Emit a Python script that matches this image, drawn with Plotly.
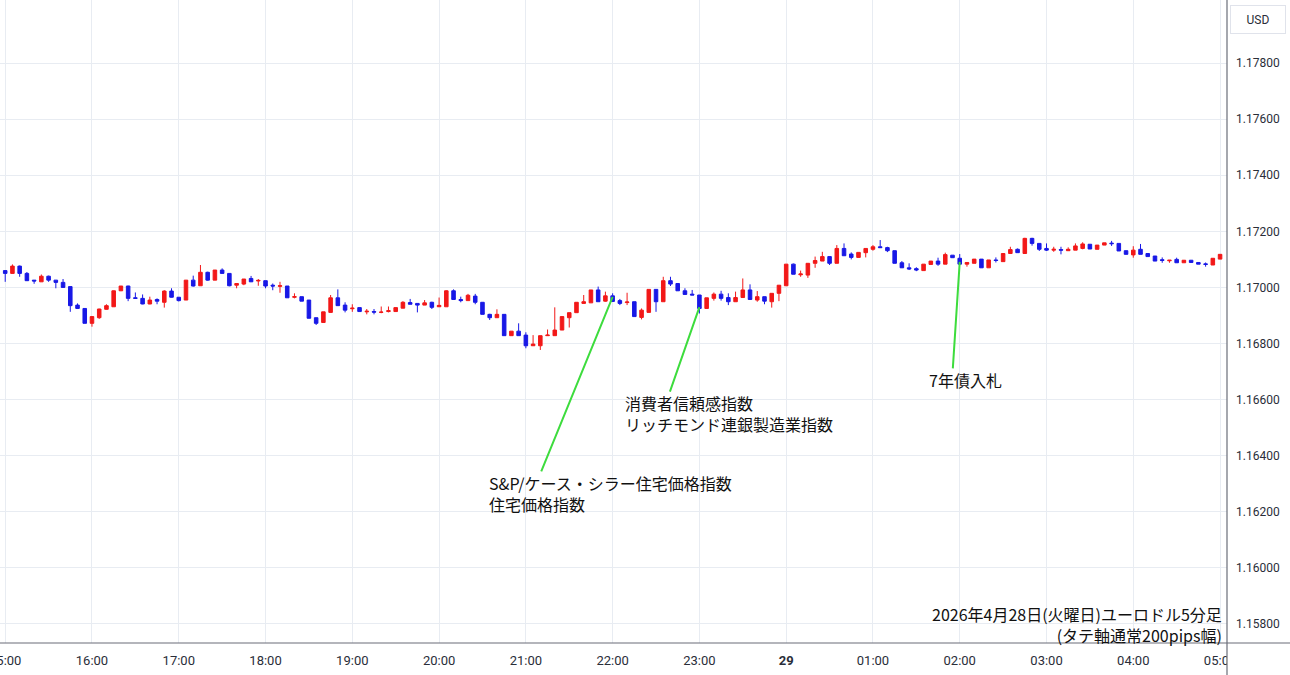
import pandas as pd
import plotly.graph_objects as go

# EUR/USD 5-minute candles, 2026-04-28 15:00 -> 2026-04-29 05:00
start_time = "2026-04-28 15:00"
n_candles = 169

open_ = [
    1.17060, 1.17050, 1.17076, 1.17050, 1.17026, 1.17020, 1.17040, 1.17026, 1.17018, 1.17003,
    1.16937, 1.16925, 1.16872, 1.16892, 1.16922, 1.16931, 1.16988, 1.17005, 1.16963, 1.16961,
    1.16941, 1.16957, 1.16947, 1.16987, 1.16965, 1.16955, 1.17026, 1.17006, 1.17054, 1.17026,
    1.17062, 1.17050, 1.17008, 1.17012, 1.17032, 1.17023, 1.17024, 1.17008, 1.17004, 1.17005,
    1.16965, 1.16967, 1.16955, 1.16892, 1.16875, 1.16911, 1.16963, 1.16937, 1.16924, 1.16928,
    1.16913, 1.16914, 1.16911, 1.16914, 1.16914, 1.16926, 1.16946, 1.16943, 1.16937, 1.16947,
    1.16931, 1.16931, 1.16988, 1.16957, 1.16953, 1.16969, 1.16947, 1.16904, 1.16892, 1.16904,
    1.16828, 1.16844, 1.16830, 1.16792, 1.16792, 1.16828, 1.16828, 1.16848, 1.16892, 1.16910,
    1.16943, 1.16945, 1.16991, 1.16951, 1.16970, 1.16953, 1.16946, 1.16949, 1.16893, 1.16911,
    1.16993, 1.16949, 1.17024, 1.17014, 1.16988, 1.16976, 1.16973, 1.16925, 1.16961, 1.16976,
    1.16964, 1.16949, 1.16964, 1.16991, 1.16955, 1.16967, 1.16949, 1.16979, 1.17006, 1.17083,
    1.17045, 1.17044, 1.17086, 1.17094, 1.17110, 1.17086, 1.17139, 1.17119, 1.17107, 1.17124,
    1.17136, 1.17145, 1.17142, 1.17131, 1.17088, 1.17070, 1.17067, 1.17060, 1.17082, 1.17094,
    1.17083, 1.17115, 1.17104, 1.17083, 1.17086, 1.17101, 1.17070, 1.17098, 1.17092, 1.17121,
    1.17136, 1.17121, 1.17175, 1.17157, 1.17139, 1.17133, 1.17135, 1.17131, 1.17133, 1.17139,
    1.17154, 1.17136, 1.17151, 1.17158, 1.17157, 1.17131, 1.17116, 1.17136, 1.17121, 1.17112,
    1.17099, 1.17095, 1.17100, 1.17088, 1.17097, 1.17089, 1.17084, 1.17080, 1.17101,
]
high = [
    1.17062, 1.17082, 1.17078, 1.17055, 1.17026, 1.17046, 1.17042, 1.17026, 1.17030, 1.17003,
    1.16943, 1.16925, 1.16898, 1.16924, 1.16940, 1.16989, 1.17005, 1.17006, 1.16982, 1.16975,
    1.16967, 1.16961, 1.16990, 1.16997, 1.16965, 1.17026, 1.17042, 1.17080, 1.17056, 1.17062,
    1.17068, 1.17050, 1.17014, 1.17030, 1.17041, 1.17030, 1.17024, 1.17014, 1.17020, 1.17005,
    1.16979, 1.16967, 1.16955, 1.16892, 1.16913, 1.16973, 1.16993, 1.16947, 1.16940, 1.16928,
    1.16923, 1.16923, 1.16932, 1.16932, 1.16928, 1.16951, 1.16959, 1.16943, 1.16955, 1.16949,
    1.16964, 1.16990, 1.16993, 1.16967, 1.16977, 1.16977, 1.16947, 1.16906, 1.16922, 1.16904,
    1.16844, 1.16872, 1.16840, 1.16830, 1.16828, 1.16850, 1.16929, 1.16896, 1.16910, 1.16947,
    1.16973, 1.16991, 1.17003, 1.16985, 1.16979, 1.16959, 1.16981, 1.16949, 1.16925, 1.16993,
    1.16993, 1.17038, 1.17038, 1.17014, 1.16997, 1.16991, 1.16973, 1.16963, 1.16982, 1.16988,
    1.16979, 1.16985, 1.17032, 1.17011, 1.16987, 1.16967, 1.16979, 1.17008, 1.17083, 1.17085,
    1.17060, 1.17086, 1.17110, 1.17127, 1.17110, 1.17151, 1.17157, 1.17125, 1.17125, 1.17139,
    1.17151, 1.17169, 1.17145, 1.17131, 1.17094, 1.17086, 1.17072, 1.17083, 1.17094, 1.17106,
    1.17124, 1.17115, 1.17119, 1.17089, 1.17101, 1.17101, 1.17098, 1.17107, 1.17121, 1.17145,
    1.17139, 1.17177, 1.17177, 1.17157, 1.17157, 1.17145, 1.17145, 1.17143, 1.17157, 1.17161,
    1.17154, 1.17151, 1.17159, 1.17166, 1.17157, 1.17131, 1.17147, 1.17155, 1.17121, 1.17112,
    1.17107, 1.17097, 1.17106, 1.17097, 1.17097, 1.17089, 1.17089, 1.17104, 1.17118,
]
low = [
    1.17020, 1.17050, 1.17038, 1.17023, 1.17013, 1.17020, 1.17020, 1.16997, 1.17000, 1.16913,
    1.16923, 1.16872, 1.16860, 1.16888, 1.16921, 1.16931, 1.16987, 1.16951, 1.16959, 1.16940,
    1.16940, 1.16940, 1.16928, 1.16964, 1.16950, 1.16955, 1.17003, 1.17006, 1.17024, 1.17026,
    1.17050, 1.17004, 1.16997, 1.17008, 1.17020, 1.17006, 1.16997, 1.16990, 1.16981, 1.16963,
    1.16961, 1.16951, 1.16890, 1.16866, 1.16875, 1.16910, 1.16935, 1.16911, 1.16913, 1.16914,
    1.16904, 1.16904, 1.16908, 1.16911, 1.16914, 1.16926, 1.16940, 1.16911, 1.16937, 1.16923,
    1.16931, 1.16931, 1.16957, 1.16947, 1.16953, 1.16940, 1.16904, 1.16884, 1.16892, 1.16828,
    1.16828, 1.16828, 1.16783, 1.16792, 1.16777, 1.16828, 1.16828, 1.16848, 1.16857, 1.16910,
    1.16943, 1.16945, 1.16949, 1.16949, 1.16949, 1.16937, 1.16937, 1.16896, 1.16886, 1.16911,
    1.16913, 1.16949, 1.17005, 1.16988, 1.16975, 1.16973, 1.16907, 1.16925, 1.16953, 1.16953,
    1.16937, 1.16949, 1.16964, 1.16957, 1.16949, 1.16940, 1.16928, 1.16951, 1.17006, 1.17047,
    1.17038, 1.17034, 1.17070, 1.17094, 1.17080, 1.17086, 1.17113, 1.17100, 1.17107, 1.17107,
    1.17131, 1.17142, 1.17126, 1.17086, 1.17070, 1.17062, 1.17058, 1.17060, 1.17082, 1.17077,
    1.17083, 1.17106, 1.17083, 1.17074, 1.17086, 1.17070, 1.17070, 1.17089, 1.17092, 1.17120,
    1.17124, 1.17121, 1.17149, 1.17130, 1.17130, 1.17127, 1.17118, 1.17131, 1.17133, 1.17136,
    1.17137, 1.17136, 1.17151, 1.17148, 1.17130, 1.17118, 1.17106, 1.17118, 1.17110, 1.17094,
    1.17088, 1.17088, 1.17088, 1.17088, 1.17089, 1.17083, 1.17074, 1.17080, 1.17101,
]
close = [
    1.17050, 1.17076, 1.17050, 1.17024, 1.17023, 1.17040, 1.17026, 1.17018, 1.17000, 1.16935,
    1.16925, 1.16872, 1.16896, 1.16923, 1.16935, 1.16988, 1.17005, 1.16961, 1.16961, 1.16941,
    1.16955, 1.16951, 1.16987, 1.16965, 1.16953, 1.17026, 1.17005, 1.17054, 1.17026, 1.17062,
    1.17050, 1.17006, 1.17014, 1.17030, 1.17020, 1.17025, 1.17005, 1.17005, 1.17006, 1.16963,
    1.16967, 1.16951, 1.16890, 1.16872, 1.16913, 1.16963, 1.16935, 1.16919, 1.16926, 1.16914,
    1.16915, 1.16912, 1.16912, 1.16917, 1.16928, 1.16947, 1.16940, 1.16937, 1.16945, 1.16929,
    1.16936, 1.16988, 1.16957, 1.16953, 1.16972, 1.16947, 1.16904, 1.16892, 1.16904, 1.16828,
    1.16844, 1.16828, 1.16792, 1.16798, 1.16828, 1.16830, 1.16848, 1.16896, 1.16910, 1.16947,
    1.16949, 1.16991, 1.16949, 1.16970, 1.16950, 1.16943, 1.16948, 1.16896, 1.16919, 1.16993,
    1.16949, 1.17024, 1.17012, 1.16988, 1.16975, 1.16973, 1.16925, 1.16963, 1.16976, 1.16961,
    1.16949, 1.16964, 1.16991, 1.16957, 1.16967, 1.16951, 1.16979, 1.17008, 1.17083, 1.17047,
    1.17048, 1.17086, 1.17096, 1.17110, 1.17086, 1.17139, 1.17113, 1.17107, 1.17125, 1.17139,
    1.17145, 1.17142, 1.17131, 1.17086, 1.17070, 1.17066, 1.17062, 1.17083, 1.17094, 1.17083,
    1.17117, 1.17106, 1.17083, 1.17089, 1.17101, 1.17070, 1.17098, 1.17096, 1.17121, 1.17135,
    1.17124, 1.17175, 1.17157, 1.17136, 1.17133, 1.17136, 1.17133, 1.17136, 1.17148, 1.17155,
    1.17137, 1.17151, 1.17159, 1.17156, 1.17130, 1.17118, 1.17133, 1.17118, 1.17110, 1.17094,
    1.17096, 1.17097, 1.17088, 1.17097, 1.17089, 1.17083, 1.17082, 1.17104, 1.17118,
]

# axis ticks
x_tick_times = ["2026-04-28 15:00", "2026-04-28 16:00", "2026-04-28 17:00", "2026-04-28 18:00",
                "2026-04-28 19:00", "2026-04-28 20:00", "2026-04-28 21:00", "2026-04-28 22:00",
                "2026-04-28 23:00", "2026-04-29 00:00", "2026-04-29 01:00", "2026-04-29 02:00",
                "2026-04-29 03:00", "2026-04-29 04:00", "2026-04-29 05:00"]
x_tick_labels = ["15:00", "16:00", "17:00", "18:00", "19:00", "20:00", "21:00", "22:00",
                 "23:00", "<b>29</b>", "01:00", "02:00", "03:00", "04:00", "05:00"]
y_tick_values = [1.158, 1.160, 1.162, 1.164, 1.166, 1.168, 1.170, 1.172, 1.174, 1.176, 1.178]

# event annotations: (time of candle, price pointed at, text)
events = [
    ("2026-04-28 22:00", 1.16966, "S&P/ケース・シラー住宅価格指数<br>住宅価格指数"),
    ("2026-04-28 23:00", 1.16930, "消費者信頼感指数<br>リッチモンド連銀製造業指数"),
    ("2026-04-29 02:00", 1.17091, "7年債入札"),
]
caption = "2026年4月28日(火曜日)ユーロドル5分足<br>(タテ軸通常200pips幅)"

times = pd.date_range(start_time, periods=n_candles, freq="5min")

RED = "#f21818"
BLUE = "#1818e6"
GREEN = "#3ddc3d"
TXT = "#2a2e39"
CJK = "Noto Sans CJK JP"

fig = go.Figure(go.Candlestick(
    x=times, open=open_, high=high, low=low, close=close,
    increasing=dict(line=dict(color=RED, width=1), fillcolor=RED),
    decreasing=dict(line=dict(color=BLUE, width=1), fillcolor=BLUE),
    whiskerwidth=0, showlegend=False, hoverinfo="skip",
))

W, H = 1290, 675
ML, MR, MT, MB = 0, 63, 0, 32
PW, PH = W - ML - MR, H - MT - MB

def px_x(px):
    return px / PW

def px_y(py):
    return (PH - py) / PH

annotations = []
# leader lines (arrow tail offsets in pixels) and text placement
arrow_offsets = [(-72, 176), (-30, 86), (-7, 108)]
text_specs = [
    # (x anchor time, price of text centre, xanchor)
    ("2026-04-28 20:32:50", 1.16264, "left"),
    ("2026-04-28 22:07:00", 1.16551, "left"),
    ("2026-04-29 02:03:40", 1.16670, "center"),
]
for (t, p, txt), (ax, ay), (tx, ty, xa) in zip(events, arrow_offsets, text_specs):
    annotations.append(dict(
        x=t, y=p, xref="x", yref="y", text="", showarrow=True,
        arrowhead=0, arrowwidth=2, arrowcolor=GREEN, ax=ax, ay=ay, standoff=0,
    ))
    annotations.append(dict(
        x=tx, y=ty, xref="x", yref="y", text=txt, showarrow=False, align="left",
        xanchor=xa, yanchor="middle", font=dict(family=CJK, size=16, color="#111111"),
    ))

# chart caption bottom-right
annotations.append(dict(
    x=px_x(1224), y=px_y(624), xref="paper", yref="paper", text=caption, showarrow=False,
    xanchor="right", yanchor="middle", align="right",
    font=dict(family=CJK, size=16, color="#111111"),
))

# currency box
annotations.append(dict(
    x=px_x(1258), y=px_y(20), xref="paper", yref="paper", text="USD", showarrow=False,
    xanchor="center", yanchor="middle", width=54, height=27, borderpad=0,
    bordercolor="#e0e3eb", borderwidth=1, bgcolor="white",
    font=dict(family="Roboto", size=12, color=TXT),
))

shapes = [
    # cover the part of x tick labels under the price scale
    dict(type="rect", xref="paper", yref="paper", x0=1.0, x1=px_x(W + 5), y0=px_y(H + 5), y1=0,
         fillcolor="white", line=dict(width=0), layer="above"),
    # price-scale separator
    dict(type="line", xref="paper", yref="paper", x0=1.0, x1=1.0, y0=px_y(H + 5), y1=1.0,
         line=dict(color="#6a6d78", width=1.2), layer="above"),
    # time-scale separator
    dict(type="line", xref="paper", yref="paper", x0=0, x1=px_x(W + 5), y0=0, y1=0,
         line=dict(color="#6a6d78", width=1.2), layer="above"),
]

fig.update_layout(
    width=W, height=H,
    margin=dict(l=ML, r=MR, t=MT, b=MB, autoexpand=False),
    paper_bgcolor="white", plot_bgcolor="white",
    showlegend=False,
    annotations=annotations,
    shapes=shapes,
    font=dict(family="Roboto", size=12, color=TXT),
)
fig.update_xaxes(
    type="date", automargin=False,
    range=["2026-04-28 14:56:24", "2026-04-29 05:04:48"],
    tickmode="array", tickvals=x_tick_times, ticktext=x_tick_labels,
    showgrid=True, gridcolor="#e8ecf2", gridwidth=1,
    zeroline=False, showline=False, ticks="",
    rangeslider=dict(visible=False),
    tickfont=dict(family="Roboto", size=13, color=TXT),
    ticklabelstandoff=8, ticklabeloverflow="allow",
)
fig.update_yaxes(
    side="right", automargin=False,
    range=[1.15732, 1.18025],
    tickmode="array", tickvals=y_tick_values, tickformat=".5f",
    showgrid=True, gridcolor="#e8ecf2", gridwidth=1,
    zeroline=False, showline=False, ticks="",
    tickfont=dict(family="Roboto", size=12, color=TXT),
    ticklabelstandoff=8,
)

fig.write_html(
    "out.html",
    config={"displayModeBar": False, "staticPlot": True},
    post_script="document.body.style.margin='0';document.body.style.overflow='hidden';",
)
